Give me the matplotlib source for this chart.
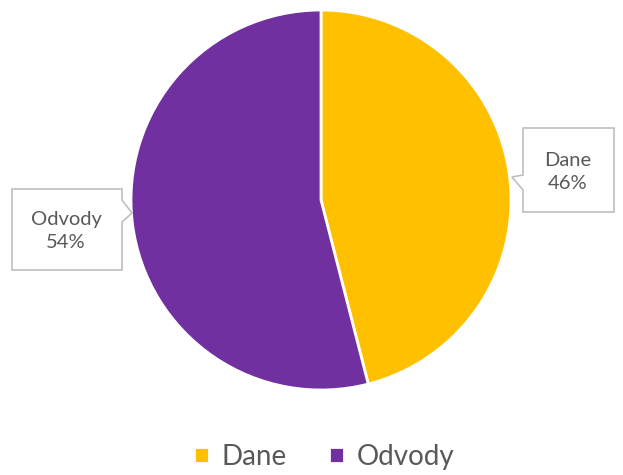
import matplotlib.pyplot as plt
from matplotlib.patches import Polygon

plt.rcParams['font.family'] = ['Lato', 'DejaVu Sans']

kategorie = ["Dane", "Odvody"]
podiely = [46, 54]
farby = ["#FFC000", "#7030A0"]

fig = plt.figure(figsize=(6.23, 4.75), dpi=100)
# pie centre ~ (321, 200) px, radius ~190 px
ax = fig.add_axes([131 / 623, 85 / 475, 380 / 623, 380 / 475])
wedges, _ = ax.pie(podiely, colors=farby, startangle=90, counterclock=False,
                   radius=1, wedgeprops=dict(edgecolor="white", linewidth=2))
ax.set_xlim(-1, 1)
ax.set_ylim(-1, 1)
ax.set_aspect("equal")
ax.axis("off")


def px(x, y):
    # figure pixel -> data units
    return ((x - 321) / 190, (200 - y) / 190)


def callout(points, tx, ty, text):
    poly = Polygon([px(*p) for p in points], closed=True, facecolor="white",
                   edgecolor="#BFBFBF", linewidth=1.2, clip_on=False, zorder=5)
    ax.add_patch(poly)
    x, y = px(tx, ty)
    ax.text(x, y, text, ha="center", va="center", fontsize=14.5,
            color="#595959", linespacing=1.45, zorder=6, clip_on=False)


callout([(523, 128), (614, 128), (614, 212), (523, 212), (523, 190),
         (512, 177), (523, 175)], 568, 172,
        f"{kategorie[0]}\n{podiely[0]}%")
callout([(12, 189), (122, 189), (122, 200), (132, 213), (122, 222),
         (122, 270), (12, 270)], 66, 231,
        f"{kategorie[1]}\n{podiely[1]}%")

leg = fig.legend(wedges, kategorie, loc="lower center", ncol=2, frameon=False,
                 fontsize=20, handlelength=0.55, handleheight=0.55,
                 handletextpad=0.45, columnspacing=1.5,
                 bbox_to_anchor=(0.52, -0.042))
for t in leg.get_texts():
    t.set_color("#595959")

fig.savefig("out.png", dpi=100)
